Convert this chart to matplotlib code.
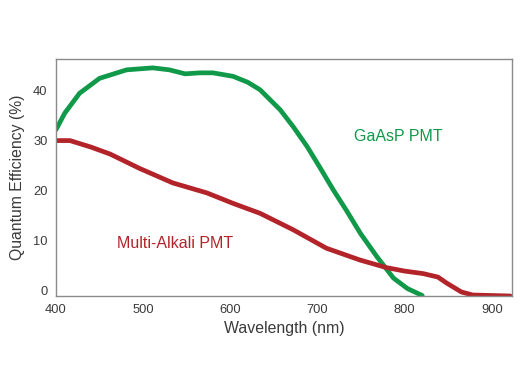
import matplotlib.pyplot as plt

plt.rcParams['font.family'] = ['Liberation Sans', 'DejaVu Sans']

# GaAsP PMT curve
gaasp_nm = [400, 410, 427, 450, 481, 511, 530, 548, 565, 580, 603, 620, 634, 657,
            672, 688, 703, 718, 733, 749, 768, 787, 803, 820]
gaasp_qe = [32.2, 35.5, 39.5, 42.5, 44.2, 44.6, 44.2, 43.4, 43.6, 43.6, 42.9, 41.7, 40.2, 36.2,
            32.8, 28.8, 24.5, 20.1, 16.0, 11.4, 6.7, 2.4, 0.3, -1.1]

# Multi-Alkali PMT curve
alkali_nm = [400, 416, 440, 462, 496, 534, 573, 603, 634, 672, 710, 749, 779, 800,
             821, 838, 848, 865, 878, 900, 921]
alkali_qe = [30.0, 30.0, 28.7, 27.3, 24.4, 21.5, 19.5, 17.4, 15.4, 12.1, 8.4, 6.0, 4.5, 3.8,
             3.3, 2.6, 1.4, -0.4, -1.0, -1.1, -1.2]

y_ticks = [0, 10, 20, 30, 40]
x_ticks = [400, 500, 600, 700, 800, 900]

GREEN = '#11994a'
RED = '#b3242a'
TXT = '#3a3a3a'

fig = plt.figure(figsize=(5.2, 3.9), dpi=100)
ax = fig.add_axes([0.1077, 0.241, 0.877, 0.608])

ax.plot(gaasp_nm, gaasp_qe, color=GREEN, lw=3.4, solid_joinstyle='round', solid_capstyle='round')
ax.plot(alkali_nm, alkali_qe, color=RED, lw=3.4, solid_joinstyle='round', solid_capstyle='round')

ax.text(792, 30.8, 'GaAsP PMT', color=GREEN, fontsize=11.5, ha='center', va='center')
ax.text(536, 9.4, 'Multi-Alkali PMT', color=RED, fontsize=11.5, ha='center', va='center')

ax.set_xlim(400, 923)
ax.set_ylim(-1.2, 46.4)
ax.set_xticks(x_ticks)
ax.set_yticks(y_ticks)
ax.tick_params(length=0, labelsize=9.3, labelcolor=TXT)
ax.tick_params(axis='x', pad=6)
ax.tick_params(axis='y', pad=6)

for s in ax.spines.values():
    s.set_color('#8a8a8a')
    s.set_linewidth(1.0)

ax.set_xlabel('Wavelength (nm)', fontsize=11.4, color=TXT, labelpad=3)
ax.set_ylabel('Quantum Efficiency (%)', fontsize=11.3, color=TXT, labelpad=6)

fig.savefig('out.png', dpi=100)
